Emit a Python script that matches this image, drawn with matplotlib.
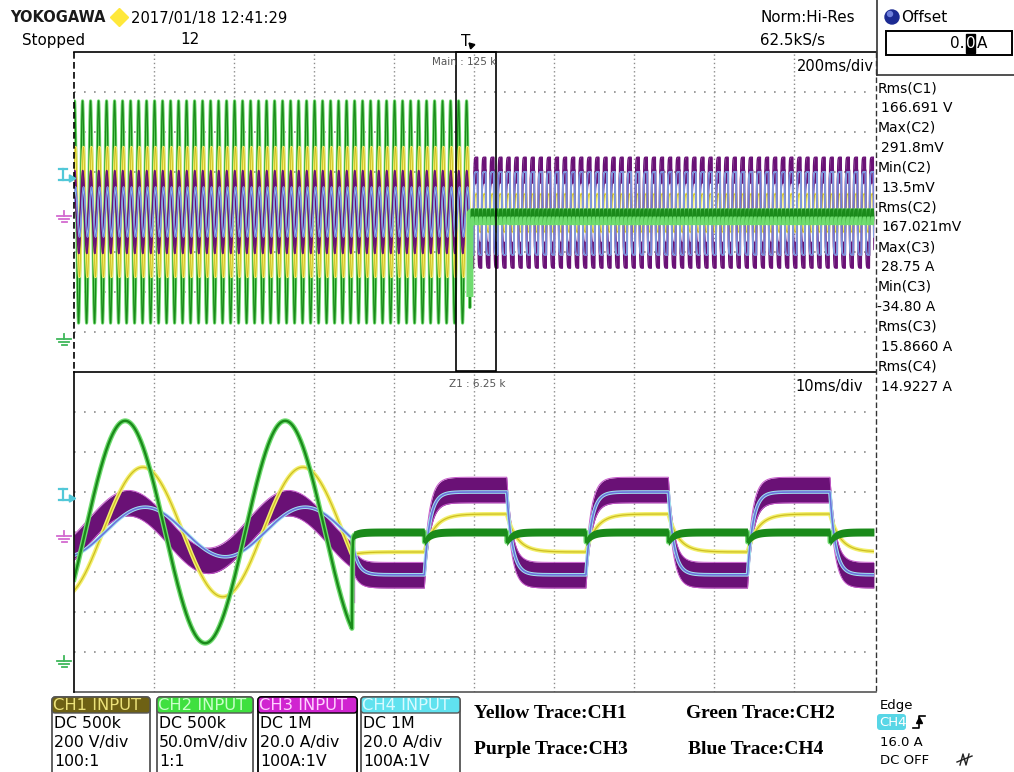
import matplotlib
matplotlib.use('Agg')
import matplotlib.pyplot as plt
from matplotlib.patches import Rectangle, FancyBboxPatch, Circle
import numpy as np

# ---- scope settings ----
W, H = 1014, 772
MS_PER_DIV = [200, 10]          # main window, zoom window
ZOOM_START_MS = 955.0           # left edge of the zoom window on the main time axis
FAULT_MS = 989.75               # moment the waveforms change
LINE_PERIOD_MS = 20.0

# order: CH1 yellow, CH2 green, CH3 purple, CH4 blue  (values in divisions)
SINE_AMP = [1.62, 2.78, 0.72, 0.62]
SINE_PEAK_MS = [963.6, 961.4, 961.8, 963.9]
SQ_HIGH = [0.45, 0.0, 1.05, 1.0]
SQ_LOW = [-0.5, 0.0, -1.08, -1.07]
SQ_TAU_MS = [1.3, 0.05, 0.7, 0.7]
SQ_FIRST_RISE_MS = 998.8
SQ_PERIOD_MS = 20.2
SQ_HIGH_MS = 10.3
PURPLE_HALF = 0.32              # ripple band half width
GREEN_HALF = 0.1
GREEN_EDGE_DIP = -0.25
PURPLE_SPIKE_DIV = -1.74        # Min(C3) -34.80 A at 20 A/div

MEAS_LABELS = ['Rms(C1)', 'Max(C2)', 'Min(C2)', 'Rms(C2)', 'Max(C3)', 'Min(C3)', 'Rms(C3)', 'Rms(C4)']
MEAS_VALUES = ['166.691 V', '291.8mV', '13.5mV', '167.021mV', '28.75 A', '-34.80 A', '15.8660 A', '14.9227 A']

CH_NAMES = ['CH1 INPUT', 'CH2 INPUT', 'CH3 INPUT', 'CH4 INPUT']
CH_LINES = [['DC 500k', '200 V/div', '100:1'],
            ['DC 500k', '50.0mV/div', '1:1'],
            ['DC 1M', '20.0 A/div', '100A:1V'],
            ['DC 1M', '20.0 A/div', '100A:1V']]
CH_HEAD_BG = ['#6e6114', '#3fe03f', '#d024d0', '#60e2ef']
CH_HEAD_FG = ['#ece27a', '#c9ffc9', '#ffd0ff', '#d8faff']
CH_BOX_X = [52, 157, 258, 361]
CH_BOX_W = [98, 96, 99, 99]

TRACE_LABELS = [('Yellow Trace:CH1', 474, 714), ('Green Trace:CH2', 686, 714),
                ('Purple Trace:CH3', 474, 749), ('Blue Trace:CH4', 688, 749)]

YELLOW, YELLOW_H = '#cdbd22', '#f2ef6c'
GREEN, GREEN_H = '#1a8a1a', '#70dc70'
PURPLE, PURPLE_H = '#6a1176', '#c65acb'
BLUE, BLUE_H = '#6c72dc', '#a2e6f0'


def settle(target, start, tau, dt):
    out = np.empty_like(target)
    y = start
    a = min(dt / tau, 1.0)
    for i, v in enumerate(target):
        y += (v - y) * a
        out[i] = y
    return out


# ---- build the traces on one time base ----
dt = 0.01
t = np.arange(0, 2000, dt)
pre = t < FAULT_MS
post = ~pre
sq_state = (((t - SQ_FIRST_RISE_MS) % SQ_PERIOD_MS) < SQ_HIGH_MS)

traces = []
for k in range(4):
    s = SINE_AMP[k] * np.cos(2 * np.pi * (t - SINE_PEAK_MS[k]) / LINE_PERIOD_MS)
    target = np.where(sq_state[post], SQ_HIGH[k], SQ_LOW[k])
    s[post] = settle(target, s[pre][-1], SQ_TAU_MS[k], dt)
    traces.append(s)
yellow, green, purple, blue = traces
slope = np.abs(np.gradient(blue))
slope[pre] = 0
green = green + GREEN_EDGE_DIP * slope / slope.max()
i_fault = np.argmax(post)

fig = plt.figure(figsize=(W / 100, H / 100), dpi=100)
fig.patch.set_facecolor('white')


def panel(top_px, xdiv, sl, main):
    ax = fig.add_axes([74 / W, (H - top_px - 320) / H, 800 / W, 320 / H])
    ax.set_xlim(0, 10)
    ax.set_ylim(-4, 4)
    ax.axis('off')
    for v in range(1, 10):
        ax.axvline(v, color='#8c8c8c', lw=1, ls=(0, (1, 2)), zorder=1)
    for h in range(-3, 4):
        ax.axhline(h, color='#8c8c8c', lw=1.2, ls=(0, (1, 5)), zorder=1)
    x = xdiv
    g = green[sl]
    p = purple[sl]
    gp = post[sl]
    xf = (FAULT_MS - (t[sl][0])) / (t[sl][-1] - t[sl][0]) * (x[-1] - x[0]) + x[0]
    if main:
        ax.plot(x, g, color=GREEN_H, lw=2.2, zorder=1.5)
        ax.plot(x, g, color=GREEN, lw=0.9, zorder=1.5)
        ax.plot(x, yellow[sl], color=YELLOW_H, lw=2.0, zorder=2)
        ax.plot(x, yellow[sl], color=YELLOW, lw=0.6, zorder=2)
        ax.fill_between(x, p - PURPLE_HALF, p + PURPLE_HALF, color=PURPLE, lw=0, zorder=3)
        ax.plot(x, p + PURPLE_HALF, color=PURPLE, lw=1.0, zorder=3)
        ax.plot(x, p - PURPLE_HALF, color=PURPLE, lw=1.0, zorder=3)
        ax.plot(x, p, color=PURPLE, lw=1.4, zorder=3)
        ax.plot(x, blue[sl], color=BLUE_H, lw=1.2, zorder=4)
        ax.plot(x, blue[sl], color=BLUE, lw=0.7, zorder=4)
        ax.plot(x[gp], g[gp], color=GREEN_H, lw=5.0, zorder=4.9)
        ax.fill_between(x, g - GREEN_HALF, g + GREEN_HALF, where=gp, color=GREEN, lw=0, zorder=5)
    else:
        ax.fill_between(x, p - PURPLE_HALF, p + PURPLE_HALF, color=PURPLE, lw=0, zorder=2)
        ax.plot(x, p + PURPLE_HALF, color=PURPLE_H, lw=0.7, zorder=2)
        ax.plot(x, p - PURPLE_HALF, color=PURPLE_H, lw=0.7, zorder=2)
        ax.plot(x, yellow[sl], color=YELLOW_H, lw=3, zorder=3)
        ax.plot(x, yellow[sl], color=YELLOW, lw=0.9, zorder=3)
        ax.plot(x, blue[sl], color=BLUE_H, lw=2.6, zorder=4)
        ax.plot(x, blue[sl], color=BLUE, lw=1.2, zorder=4)
        ax.plot(x, g, color=GREEN_H, lw=3.6, zorder=6)
        ax.plot(x, g, color=GREEN, lw=1.7, zorder=6)
        ax.fill_between(x, g - GREEN_HALF, g + GREEN_HALF, where=gp, color=GREEN, lw=0, zorder=6)
        ax.plot([xf + 0.03, xf + 0.03], [PURPLE_SPIKE_DIV, -0.2], color=PURPLE_H, lw=1.0, zorder=4.5)
    ax.plot([xf, xf], [purple[i_fault], PURPLE_SPIKE_DIV], color=PURPLE, lw=1.8, zorder=4.5)
    return ax


main_sl = slice(0, len(t), 5)
panel(52, t[main_sl] / MS_PER_DIV[0], main_sl, True)
z0 = int(round(ZOOM_START_MS / dt))
z1 = int(round((ZOOM_START_MS + 10 * MS_PER_DIV[1]) / dt))
zoom_sl = slice(z0, z1)
panel(372, (t[zoom_sl] - ZOOM_START_MS) / MS_PER_DIV[1], zoom_sl, False)

# ---- overlay in screen pixels ----
ov = fig.add_axes([0, 0, 1, 1])
ov.set_xlim(0, W)
ov.set_ylim(H, 0)
ov.axis('off')
ov.patch.set_alpha(0)
F = 'DejaVu Sans'


def txt(x, y, s, size=11, **kw):
    kw.setdefault('family', F)
    ov.text(x, y, s, fontsize=size, va='center', ha='left', **kw)


# frame
ov.plot([74, 876], [52, 52], color='black', lw=1.2)
ov.plot([74, 876], [372, 372], color='black', lw=1.2)
ov.plot([74, 876], [692, 692], color='#555555', lw=1.2)
ov.plot([74, 74], [52, 372], color='black', lw=1.2, ls=(0, (4, 2)))
ov.plot([74, 74], [372, 692], color='black', lw=1.2)
ov.plot([876, 876], [52, 692], color='#333333', lw=1.0, ls=(0, (4, 2)))
# zoom box on main window
zx0 = 74 + ZOOM_START_MS / MS_PER_DIV[0] * 80
zx1 = 74 + (ZOOM_START_MS + 10 * MS_PER_DIV[1]) / MS_PER_DIV[0] * 80
ov.add_patch(Rectangle((zx0, 52), zx1 - zx0, 319, fill=False, ec='black', lw=1.2))

# header
txt(10, 17, 'YOKOGAWA', 10.5, color='#1a1a1a', weight='bold')
ov.plot([119], [17], marker='D', ms=9, color='#ffe83a', mec='#ffe83a')
txt(131, 18, '2017/01/18 12:41:29', 10.6)
txt(22, 40, 'Stopped', 10.9)
txt(180, 40, '12', 10.9)
txt(760, 18, 'Norm:Hi-Res', 10.9)
txt(760, 40, '62.5kS/s', 10.9)
txt(461, 41, 'T', 11)
ov.plot([471], [45], marker=(3, 0, 45), ms=5, color='black')

# offset panel
ov.plot([877, 877], [0, 75], color='#333333', lw=1.2)
ov.plot([877, W], [75, 75], color='#333333', lw=1.2)
ov.add_patch(Circle((892, 17), 7, color='#1b2a92'))
ov.add_patch(Circle((890, 14), 2.5, color='#6f80dc'))
txt(901, 18, 'Offset', 11)
ov.add_patch(Rectangle((886, 31), 126, 24, fill=False, ec='black', lw=1.4))
txt(950, 43, '0.', 11)
ov.add_patch(Rectangle((966, 34), 9, 19, color='black'))
txt(966, 43, '0', 11, color='white')
txt(977, 43, 'A', 11)

# window labels
txt(797, 66, '200ms/div', 10.5)
txt(432, 62, 'Main : 125 k', 7.5, color='#555555')
txt(795, 386, '10ms/div', 10.5)
txt(449, 384, 'Z1 : 6.25 k', 7.5, color='#555555')

# measurements
for i, (lab, val) in enumerate(zip(MEAS_LABELS, MEAS_VALUES)):
    txt(878, 88 + 39.8 * i, lab, 10)
    txt(877 if val.startswith('-') else 881, 108 + 39.8 * i, val, 10)


# channel markers on the left
def ground(x, y, c):
    ov.plot([x, x], [y - 6, y - 1], color=c, lw=1.3)
    for w, dy in [(7, -1), (5, 2), (2.5, 5)]:
        ov.plot([x - w, x + w], [y + dy, y + dy], color=c, lw=1.3)


def trig(x, y, c):
    ov.plot([x - 5, x + 3], [y - 6, y - 6], color=c, lw=1.6)
    ov.plot([x - 1, x - 1], [y - 6, y + 5], color=c, lw=1.6)
    ov.plot([x - 5, x + 6], [y + 5, y + 5], color=c, lw=1.6)
    ov.plot([x + 7], [y + 3], marker=(3, 0, 30), ms=6, color=c)


for top, yc, yp, yg in [(52, 175, 217, 340), (372, 495, 537, 662)]:
    trig(64, yc, '#52c8d8')
    ground(64, yp, '#d36ad0')
    ground(64, yg, '#3fb85a')

# channel boxes
for k in range(4):
    x0, w = CH_BOX_X[k], CH_BOX_W[k]
    ec = 'black' if k == 2 else '#555555'
    ov.add_patch(FancyBboxPatch((x0, 697), w, 90, boxstyle='round,pad=0,rounding_size=4',
                                fc='white', ec=ec, lw=1.3))
    ov.add_patch(FancyBboxPatch((x0, 697), w, 16, boxstyle='round,pad=0,rounding_size=3',
                                fc=CH_HEAD_BG[k], ec=ec, lw=1.0))
    txt(x0 + 1, 705.5, CH_NAMES[k], 11.8, color=CH_HEAD_FG[k])
    for j, line in enumerate(CH_LINES[k]):
        txt(x0 + 2, 724 + 19 * j, line, 11.3)

for s, x, y in TRACE_LABELS:
    txt(x, y, s, 14, family='Liberation Serif', weight='bold')

# trigger settings
txt(880, 706, 'Edge', 9.5)
ov.add_patch(FancyBboxPatch((877, 714), 29, 16, boxstyle='round,pad=0,rounding_size=3',
                            fc='#58d6e6', ec='none'))
txt(879, 722, 'CH4', 9.5, color='white')
ov.plot([913, 919, 919, 925], [728, 728, 716, 716], color='black', lw=1.2)
ov.plot([919], [720], marker='^', ms=4, color='black')
txt(880, 743, '16.0 A', 9.5)
txt(880, 761, 'DC OFF', 9.5)
ov.plot([960, 963, 966, 969], [765, 754, 765, 754], color='#222222', lw=1)
ov.plot([957, 972], [762, 756], color='#222222', lw=1)

fig.savefig('out.png', dpi=100)
plt.close()
